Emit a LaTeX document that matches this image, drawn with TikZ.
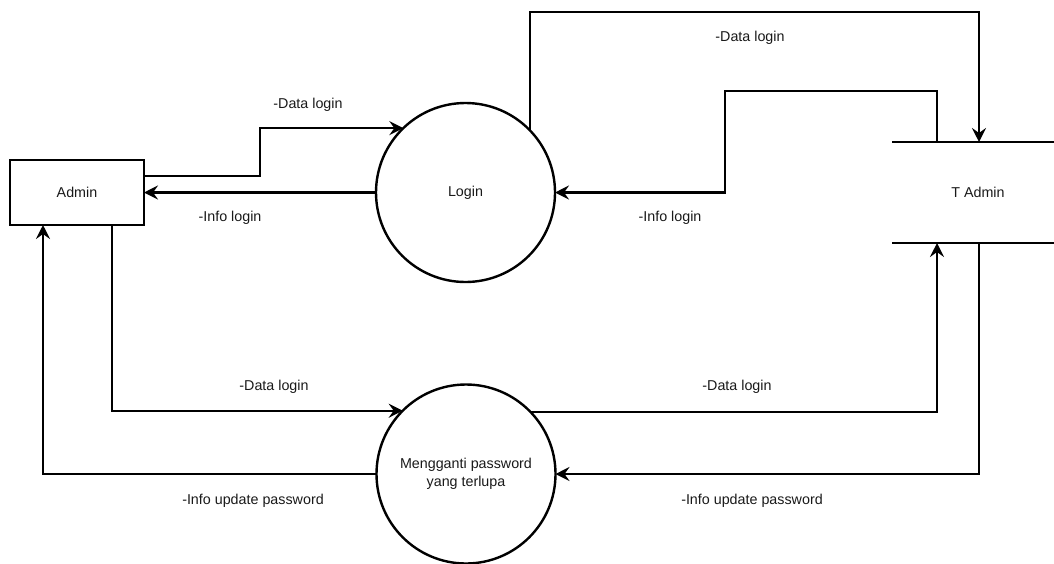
\documentclass[tikz,border=0pt]{standalone}
\usepackage{fontspec}
\setmainfont{Liberation Sans}
\usetikzlibrary{arrows.meta,calc}
\begin{document}
\begin{tikzpicture}[x=1pt,y=-1pt,
  every node/.style={font=\fontsize{14.3}{17.5}\selectfont, text=black!90},
  proc/.style={draw=black, line width=2.4pt, circle, minimum size=179pt, inner sep=0pt, outer sep=0pt, align=center},
  ent/.style={draw=black, line width=2.4pt, rectangle, minimum width=134pt, minimum height=65pt, inner sep=0pt, outer sep=0pt},
  store/.style={minimum width=162pt, minimum height=101pt, inner sep=0pt, outer sep=0pt},
  storeline/.style={draw=black, line width=2.4pt},
  flow/.style={draw=black, line width=2.4pt, -{Stealth[length=14pt,width=14pt,inset=5pt]}},
  lbl/.style={inner sep=0pt},
]
\useasboundingbox (0,0) rectangle (1054,563);

\node[ent] (admin) at (77,192.5) {Admin};
\node[proc] (login) at (465.5,192.5) {Login};
\node[proc] (mg) at (466,474) {Mengganti password\\yang terlupa};
\node[store] (tadmin) at (973,192.5) {\hspace*{10pt}T Admin};
\draw[storeline] (tadmin.north west) -- (tadmin.north east);
\draw[storeline] (tadmin.south west) -- (tadmin.south east);

\coordinate (dlTop) at (979,12);
\coordinate (ilTop) at (725,91);
\coordinate (dlOne) at (260,129);

\draw[flow] ([yshift=16.5pt]admin.east) -| (login.134.8 -| dlOne) -- (login.134.8);
\draw[flow] (login.west) -- (admin.east);
\draw[flow] (login.44.8) |- (dlTop) -- ([xshift=6pt]tadmin.north);
\draw[flow] ([xshift=-36pt]tadmin.north) |- (ilTop) |- (login.east);
\draw[flow] ([xshift=35pt]admin.south) |- (mg.135.26);
\draw[flow] (mg.44.74) -| ([xshift=-36pt]tadmin.south);
\draw[flow] ([xshift=6pt]tadmin.south) |- (mg.east);
\draw[flow] (mg.west) -| ([xshift=-34pt]admin.south);

\node[lbl] (lA) at (308,105) {-Data login};
\node[lbl] (lB) at (230,218) {-Info login};
\node[lbl] (lC) at (750,38) {-Data login};
\node[lbl] (lD) at (670,218) {-Info login};
\node[lbl] (lE) at (274,387) {-Data login};
\node[lbl] (lF) at (737,387) {-Data login};
\node[lbl] (lG) at (253,501) {-Info update password};
\node[lbl] (lH) at (752,501) {-Info update password};
\end{tikzpicture}
\end{document}
